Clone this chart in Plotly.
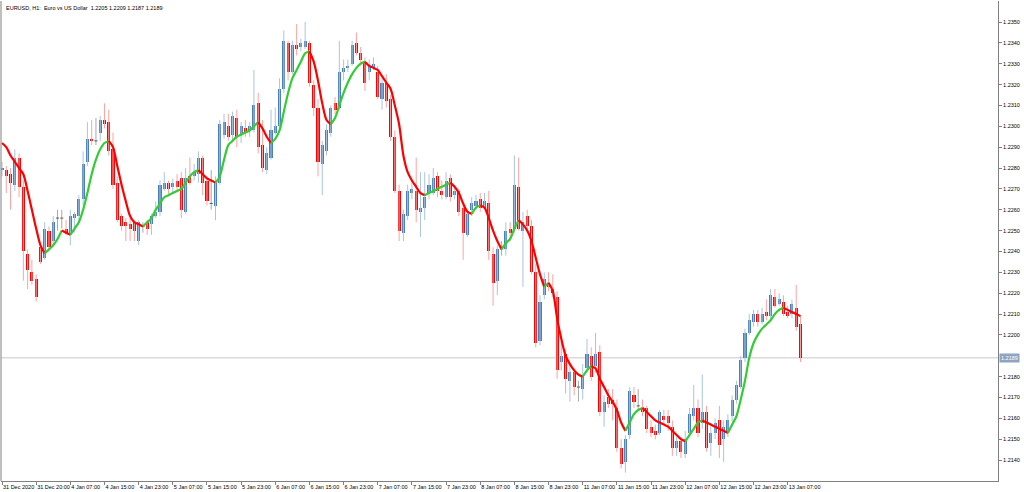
import plotly.graph_objects as go

# ---------------- data (EURUSD H1) ----------------
open_ = [1.2279,1.2279,1.2277,1.2272,1.2285,1.2271,1.2239,1.2230,1.2227,1.2242,
1.2237,1.2250,1.2245,1.2256,1.2256,1.2251,1.2249,1.2256,1.2257,1.2265,
1.2283,1.2294,1.2293,1.2297,1.2303,1.2302,1.2289,1.2273,1.2257,1.2254,
1.2253,1.2254,1.2245,1.2252,1.2254,1.2253,1.2257,1.2259,1.2270,1.2273,
1.2271,1.2274,1.2275,1.2259,1.2276,1.2276,1.2277,1.2285,1.2274,1.2263,
1.2262,1.2273,1.2296,1.2300,1.2296,1.2304,1.2296,1.2299,1.2298,1.2298,
1.2311,1.2291,1.2279,1.2285,1.2297,1.2300,1.2318,1.2340,1.2326,1.2339,
1.2338,1.2338,1.2340,1.2320,1.2309,1.2282,1.2288,1.2297,1.2311,1.2309,
1.2326,1.2328,1.2330,1.2340,1.2335,1.2331,1.2326,1.2328,1.2326,1.2313,
1.2321,1.2313,1.2295,1.2269,1.2249,1.2257,1.2268,1.2269,1.2259,1.2261,
1.2268,1.2268,1.2276,1.2269,1.2266,1.2275,1.2267,1.2269,1.2261,1.2248,
1.2260,1.2262,1.2265,1.2261,1.2263,1.2239,1.2226,1.2242,1.2241,1.2251,
1.2251,1.2271,1.2250,1.2257,1.2252,1.2230,1.2197,1.2219,1.2225,1.2222,
1.2218,1.2187,1.2191,1.2178,1.2182,1.2175,1.2174,1.2184,1.2190,1.2185,
1.2192,1.2163,1.2170,1.2169,1.2165,1.2146,1.2139,1.2152,1.2171,1.2166,
1.2165,1.2165,1.2156,1.2154,1.2153,1.2161,1.2161,1.2156,1.2146,1.2149,
1.2143,1.2153,1.2161,1.2165,1.2158,1.2163,1.2148,1.2153,1.2159,1.2150,
1.2153,1.2161,1.2169,1.2175,1.2189,1.2201,1.2206,1.2210,1.2206,1.2211,
1.2209,1.2218,1.2215,1.2216,1.2211,1.2210,1.2213,1.2205]

high = [1.2283,1.2281,1.2280,1.2289,1.2287,1.2274,1.2241,1.2236,1.2229,1.2244,
1.2254,1.2252,1.2257,1.2260,1.2260,1.2255,1.2260,1.2259,1.2267,1.2288,
1.2302,1.2303,1.2304,1.2305,1.2311,1.2308,1.2297,1.2276,1.2258,1.2256,
1.2256,1.2255,1.2255,1.2254,1.2255,1.2258,1.2264,1.2274,1.2278,1.2274,
1.2275,1.2277,1.2278,1.2280,1.2285,1.2282,1.2288,1.2286,1.2276,1.2279,
1.2276,1.2303,1.2306,1.2306,1.2307,1.2308,1.2302,1.2303,1.2302,1.2327,
1.2316,1.2303,1.2290,1.2308,1.2309,1.2323,1.2346,1.2341,1.2341,1.2349,
1.2342,1.2350,1.2341,1.2322,1.2313,1.2293,1.2301,1.2310,1.2314,1.2341,
1.2332,1.2332,1.2341,1.2345,1.2338,1.2333,1.2332,1.2333,1.2329,1.2323,
1.2325,1.2315,1.2298,1.2272,1.2260,1.2272,1.2274,1.2285,1.2278,1.2278,
1.2277,1.2280,1.2278,1.2274,1.2278,1.2277,1.2272,1.2270,1.2262,1.2260,
1.2266,1.2267,1.2268,1.2268,1.2269,1.2242,1.2243,1.2245,1.2254,1.2254,
1.2286,1.2285,1.2259,1.2260,1.2255,1.2234,1.2219,1.2230,1.2230,1.2229,
1.2221,1.2197,1.2193,1.2186,1.2184,1.2178,1.2186,1.2198,1.2194,1.2201,
1.2195,1.2171,1.2174,1.2174,1.2169,1.2150,1.2152,1.2175,1.2175,1.2174,
1.2169,1.2166,1.2159,1.2157,1.2164,1.2164,1.2164,1.2159,1.2151,1.2151,
1.2154,1.2165,1.2176,1.2169,1.2181,1.2166,1.2157,1.2160,1.2166,1.2159,
1.2162,1.2171,1.2178,1.2190,1.2203,1.2210,1.2212,1.2212,1.2213,1.2217,
1.2222,1.2222,1.2220,1.2219,1.2214,1.2217,1.2224,1.2209]

low = [1.2276,1.2268,1.2260,1.2269,1.2266,1.2226,1.2222,1.2224,1.2216,1.2234,
1.2236,1.2240,1.2243,1.2250,1.2251,1.2248,1.2243,1.2249,1.2254,1.2262,
1.2281,1.2291,1.2291,1.2293,1.2299,1.2286,1.2270,1.2254,1.2250,1.2245,
1.2245,1.2245,1.2243,1.2249,1.2248,1.2248,1.2256,1.2257,1.2269,1.2267,
1.2268,1.2269,1.2256,1.2258,1.2272,1.2274,1.2273,1.2267,1.2262,1.2260,
1.2255,1.2272,1.2294,1.2293,1.2293,1.2290,1.2292,1.2295,1.2295,1.2297,
1.2287,1.2278,1.2277,1.2284,1.2296,1.2298,1.2316,1.2322,1.2325,1.2334,
1.2336,1.2337,1.2319,1.2305,1.2276,1.2267,1.2286,1.2295,1.2306,1.2308,
1.2322,1.2326,1.2329,1.2334,1.2329,1.2317,1.2322,1.2327,1.2313,1.2308,
1.2309,1.2293,1.2268,1.2245,1.2245,1.2255,1.2265,1.2254,1.2247,1.2255,
1.2265,1.2267,1.2266,1.2265,1.2265,1.2264,1.2265,1.2257,1.2236,1.2247,
1.2257,1.2260,1.2259,1.2260,1.2236,1.2214,1.2219,1.2238,1.2238,1.2245,
1.2249,1.2250,1.2223,1.2249,1.2229,1.2194,1.2195,1.2217,1.2221,1.2218,
1.2179,1.2183,1.2172,1.2168,1.2171,1.2168,1.2169,1.2182,1.2178,1.2182,
1.2161,1.2156,1.2165,1.2159,1.2144,1.2136,1.2134,1.2150,1.2165,1.2164,
1.2161,1.2153,1.2151,1.2150,1.2152,1.2157,1.2154,1.2142,1.2142,1.2141,
1.2141,1.2152,1.2159,1.2151,1.2155,1.2144,1.2142,1.2150,1.2141,1.2139,
1.2151,1.2158,1.2167,1.2174,1.2187,1.2200,1.2204,1.2204,1.2205,1.2207,
1.2207,1.2213,1.2214,1.2209,1.2208,1.2208,1.2202,1.2187]

close = [1.2280,1.2276,1.2273,1.2285,1.2271,1.2240,1.2231,1.2226,1.2218,1.2235,
1.2251,1.2242,1.2254,1.2256,1.2256,1.2249,1.2257,1.2258,1.2265,1.2282,
1.2294,1.2293,1.2293,1.2303,1.2301,1.2288,1.2272,1.2255,1.2252,1.2252,
1.2251,1.2250,1.2254,1.2252,1.2251,1.2257,1.2259,1.2272,1.2273,1.2270,
1.2273,1.2271,1.2260,1.2275,1.2273,1.2278,1.2285,1.2273,1.2264,1.2263,
1.2273,1.2301,1.2302,1.2295,1.2305,1.2295,1.2300,1.2297,1.2300,1.2310,
1.2290,1.2280,1.2287,1.2298,1.2300,1.2318,1.2341,1.2326,1.2339,1.2337,
1.2340,1.2341,1.2321,1.2309,1.2283,1.2291,1.2298,1.2309,1.2308,1.2326,
1.2328,1.2329,1.2339,1.2335,1.2332,1.2321,1.2329,1.2330,1.2314,1.2321,
1.2312,1.2295,1.2269,1.2250,1.2258,1.2269,1.2270,1.2260,1.2261,1.2266,
1.2272,1.2275,1.2269,1.2267,1.2274,1.2266,1.2269,1.2259,1.2249,1.2258,
1.2263,1.2264,1.2261,1.2264,1.2240,1.2225,1.2241,1.2242,1.2250,1.2249,
1.2272,1.2251,1.2254,1.2252,1.2230,1.2196,1.2216,1.2227,1.2223,1.2220,
1.2183,1.2190,1.2179,1.2182,1.2175,1.2175,1.2181,1.2191,1.2180,1.2191,
1.2163,1.2168,1.2167,1.2167,1.2146,1.2138,1.2150,1.2173,1.2168,1.2166,
1.2163,1.2155,1.2153,1.2152,1.2163,1.2159,1.2158,1.2146,1.2149,1.2144,
1.2150,1.2162,1.2165,1.2153,1.2163,1.2146,1.2153,1.2158,1.2147,1.2156,
1.2159,1.2169,1.2176,1.2188,1.2201,1.2207,1.2210,1.2206,1.2210,1.2209,
1.2219,1.2214,1.2217,1.2210,1.2209,1.2215,1.2204,1.2189]

ma = [1.2292,1.2290,1.2286,1.2283,1.2280,1.2277,1.2269,1.2260,1.2251,1.2243,
1.2239,1.2241,1.2243,1.2246,1.2250,1.2249,1.2248,1.2251,1.2254,1.2260,
1.2268,1.2277,1.2284,1.2289,1.2292,1.2293,1.2290,1.2281,1.2272,1.2264,
1.2257,1.2254,1.2253,1.2252,1.2254,1.2256,1.2260,1.2263,1.2266,1.2267,
1.2268,1.2269,1.2270,1.2273,1.2276,1.2278,1.2279,1.2277,1.2275,1.2274,
1.2273,1.2276,1.2284,1.2291,1.2293,1.2295,1.2296,1.2297,1.2298,1.2300,
1.2302,1.2299,1.2295,1.2292,1.2294,1.2298,1.2307,1.2316,1.2323,1.2327,
1.2331,1.2335,1.2336,1.2331,1.2322,1.2311,1.2303,1.2301,1.2304,1.2310,
1.2316,1.2321,1.2325,1.2328,1.2330,1.2331,1.2329,1.2328,1.2327,1.2324,
1.2321,1.2318,1.2310,1.2301,1.2286,1.2278,1.2274,1.2271,1.2268,1.2267,
1.2268,1.2269,1.2270,1.2271,1.2272,1.2273,1.2271,1.2268,1.2263,1.2259,
1.2258,1.2261,1.2262,1.2261,1.2256,1.2250,1.2245,1.2241,1.2244,1.2246,
1.2251,1.2255,1.2253,1.2250,1.2245,1.2237,1.2229,1.2223,1.2225,1.2221,
1.2208,1.2198,1.2190,1.2186,1.2183,1.2181,1.2180,1.2183,1.2185,1.2184,
1.2179,1.2175,1.2171,1.2168,1.2164,1.2158,1.2154,1.2158,1.2162,1.2164,
1.2165,1.2163,1.2161,1.2159,1.2158,1.2157,1.2156,1.2154,1.2152,1.2150,
1.2149,1.2152,1.2155,1.2158,1.2159,1.2158,1.2157,1.2156,1.2155,1.2154,
1.2153,1.2157,1.2161,1.2169,1.2178,1.2189,1.2196,1.2200,1.2203,1.2205,
1.2207,1.2210,1.2212,1.2213,1.2212,1.2211,1.2210,1.2209]

tick_labels = ["31 Dec 2020", "31 Dec 20:00", "4 Jan 07:00", "4 Jan 15:00", "4 Jan 23:00",
               "5 Jan 07:00", "5 Jan 15:00", "5 Jan 23:00", "6 Jan 07:00", "6 Jan 15:00",
               "6 Jan 23:00", "7 Jan 07:00", "7 Jan 15:00", "7 Jan 23:00", "8 Jan 07:00",
               "8 Jan 15:00", "8 Jan 23:00", "11 Jan 07:00", "11 Jan 15:00", "11 Jan 23:00",
               "12 Jan 07:00", "12 Jan 15:00", "12 Jan 23:00", "13 Jan 07:00"]
tick_step = 8
price_ticks_from, price_ticks_to, price_step = 1.2140, 1.2350, 0.0010
title_text = "EURUSD, H1:  Euro vs US Dollar  1.2205 1.2209 1.2187 1.2189"
last_price = 1.2189

# ---------------- styles ----------------
BULL, BULL_WICK = "#4a7fb8", "#a9c4e0"
BEAR, BEAR_WICK = "#ff0000", "#ffa2a2"
DOJI, DOJI_WICK = "#5a5a5a", "#a8a8a8"
MA_UP, MA_DN = "#32cd32", "#ff0000"
AXIS = "#808080"
FONT = "Liberation Sans"
FS = 5.5

n = len(close)
idx = list(range(n))
fig = go.Figure()

groups = {"bull": [], "bear": [], "doji": []}
for i in idx:
    if close[i] > open_[i]:
        groups["bull"].append(i)
    elif close[i] < open_[i]:
        groups["bear"].append(i)
    else:
        groups["doji"].append(i)

# wicks
for key, col in (("bull", BULL_WICK), ("bear", BEAR_WICK), ("doji", DOJI_WICK)):
    xs, ys = [], []
    for i in groups[key]:
        xs += [i, i, None]
        ys += [low[i], high[i], None]
    fig.add_trace(go.Scatter(x=xs, y=ys, mode="lines", line=dict(color=col, width=1),
                             hoverinfo="skip"))

# bodies
for key, col in (("bull", BULL), ("bear", BEAR)):
    ii = groups[key]
    fig.add_trace(go.Bar(x=ii, y=[abs(close[i] - open_[i]) for i in ii],
                         base=[min(open_[i], close[i]) for i in ii],
                         width=0.72, marker=dict(color=col, line=dict(width=0))))
xs, ys = [], []
for i in groups["doji"]:
    xs += [i - 0.36, i + 0.36, None]
    ys += [open_[i], open_[i], None]
fig.add_trace(go.Scatter(x=xs, y=ys, mode="lines", line=dict(color=DOJI, width=1)))

# moving average coloured by direction
dirs = []
for i in range(1, n):
    if ma[i] > ma[i - 1]:
        dirs.append(1)
    elif ma[i] < ma[i - 1]:
        dirs.append(-1)
    else:
        dirs.append(dirs[-1] if dirs else -1)
start = 0
for k in range(1, len(dirs) + 1):
    if k == len(dirs) or dirs[k] != dirs[start]:
        seg = list(range(start, k + 1))
        fig.add_trace(go.Scatter(x=seg, y=[ma[j] for j in seg], mode="lines",
                                 line=dict(color=MA_UP if dirs[start] > 0 else MA_DN,
                                           width=2.2, shape="spline", smoothing=0.8),
                                 hoverinfo="skip"))
        start = k

# current price line and label
fig.add_shape(type="line", xref="paper", x0=0, x1=1, yref="y", y0=last_price, y1=last_price,
              line=dict(color="#c8c8c8", width=1), layer="below")
fig.add_annotation(xref="paper", x=1, y=last_price, yref="y", xanchor="left", yanchor="middle",
                   xshift=1, text=f"{last_price:.4f}", showarrow=False, bgcolor="#8ea4bf",
                   font=dict(family=FONT, size=FS, color="white"), borderpad=1)
# left frame line
fig.add_shape(type="line", xref="paper", yref="paper", x0=0, x1=0, y0=0, y1=1,
              line=dict(color=AXIS, width=1))

fig.add_annotation(xref="paper", yref="paper", x=0, y=1, xanchor="left", yanchor="top",
                   xshift=3, yshift=-2, text=title_text, showarrow=False,
                   font=dict(family=FONT, size=FS, color="black"))

# price ticks (the one hidden behind the current-price box is skipped)
nt = int(round((price_ticks_to - price_ticks_from) / price_step)) + 1
ptick = [round(price_ticks_from + k * price_step, 4) for k in range(nt)]
ptick = [p for p in ptick if abs(p - last_price) > 0.0005]

px_per_bar = 4.27
fig.update_layout(
    width=1024, height=492, margin=dict(l=1, r=26, t=1, b=11, autoexpand=False),
    plot_bgcolor="white", paper_bgcolor="white", showlegend=False,
    barmode="overlay", bargap=0,
)
fig.update_xaxes(range=[-1 / px_per_bar, 996 / px_per_bar], automargin=False,
                 tickvals=list(range(0, tick_step * len(tick_labels), tick_step)),
                 ticktext=tick_labels, tickangle=0, ticks="outside", ticklen=3, tickcolor=AXIS,
                 ticklabelposition="outside right",
                 tickfont=dict(family=FONT, size=FS, color="black"),
                 showgrid=False, zeroline=False, showline=True, linecolor=AXIS, linewidth=1)
fig.update_yaxes(side="right", range=[1.212996, 1.236007], automargin=False,
                 tickvals=ptick, ticktext=[f"{p:.4f}" for p in ptick],
                 ticks="outside", ticklen=3, tickcolor=AXIS,
                 tickfont=dict(family=FONT, size=FS, color="black"),
                 showgrid=False, zeroline=False, showline=True, linecolor=AXIS, linewidth=1)

fig.write_html("out.html", config={"displayModeBar": False},
               post_script="document.body.style.margin='0';document.body.style.overflow='hidden';")
